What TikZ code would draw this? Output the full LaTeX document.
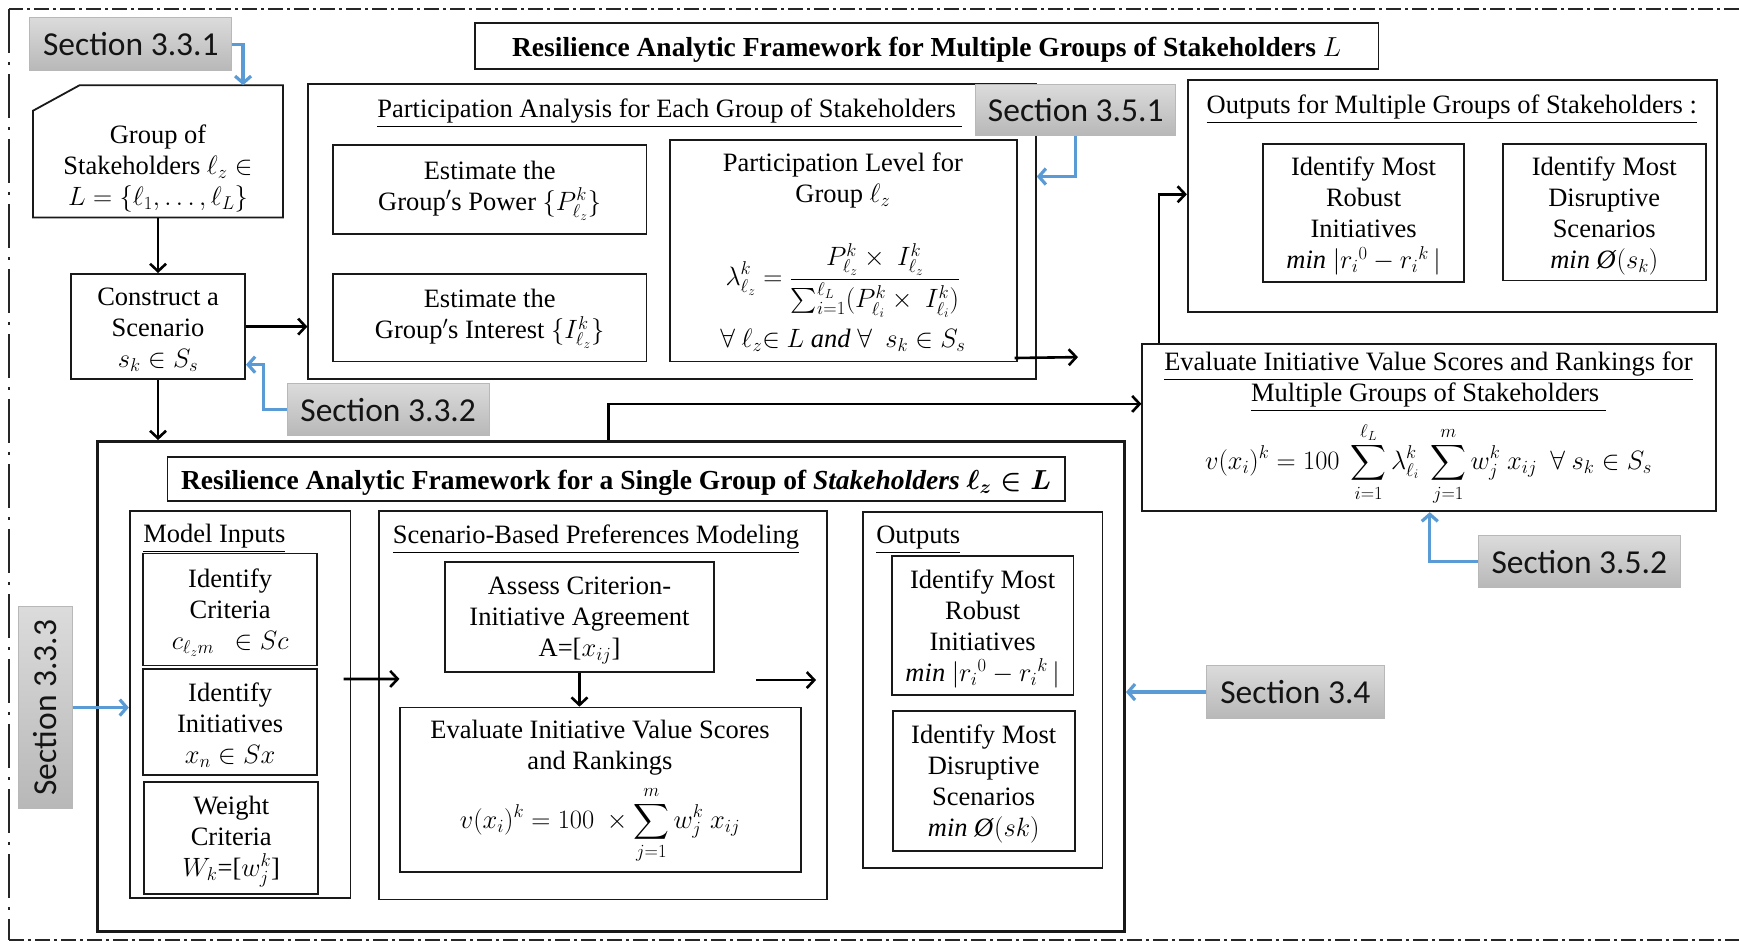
\RequirePackage{fix-cm}
\documentclass[tikz,border=0pt]{standalone}
\usepackage{amsmath}
\usepackage{fontspec}
\setmainfont{Liberation Serif}
\newfontfamily\secfont{Carlito}
\usetikzlibrary{arrows.meta,calc,fit}
\definecolor{refblue}{HTML}{5B9BD5}
\newcommand\serifsz{\fontsize{26.5}{31}\selectfont}
\newcommand\headsz{\fontsize{27.5}{31}\selectfont}
\newcommand\secsz{\secfont\fontsize{33.5}{40}\selectfont}
\begin{document}
\begin{tikzpicture}[x=1.109pt,y=-1.109pt,
  box/.style={draw=black!90, line width=1.8pt, inner sep=0pt},
  boxline/.style={draw=black!90, line width=1.8pt},
  txt/.style={inner sep=0pt, align=center, font=\serifsz},
  boxtxt/.style={txt, yshift=-3.5pt},
  secbox/.style={draw=black!28, line width=1pt, top color=black!14, bottom color=black!28,
    font=\secsz, text=black!92, inner sep=0pt},
  flow/.style={draw=black, line width=2.6pt, -{Straight Barb[length=7.5pt,width=16pt]}},
  ref/.style={draw=refblue, line width=3.2pt, -{Straight Barb[length=7pt,width=16pt]}},
  framedash/.style={line width=2pt, draw=black!85, dash pattern=on 15pt off 4pt on 3pt off 4pt},
  framedashv/.style={line width=2pt, draw=black!85, dash pattern=on 44pt off 9pt on 3pt off 9pt}]
\useasboundingbox (0,0) rectangle (1568,850);

% outer dash-dot frame
\draw[framedash] (1568,8) -- (8,8);
\draw[framedashv] (8,8) -- (8,848);
\draw[framedash] (8,848) -- (1568,848);

% main title
\node[box, fit={(428,21) (1243,62)}] (maintitle) {};
\node[boxtxt, font=\headsz] (maintitletxt) at (maintitle.center)
  {\textbf{Resilience Analytic Framework for Multiple Groups of Stakeholders} $L$};

% stakeholder group (snipped corner)
\node[inner sep=0pt, fit={(30,77) (255,196)}] (stake) {};
\draw[boxline] ($(stake.north west)+(0,23)$) -- ($(stake.north west)+(42,0)$)
  -- (stake.north east) -- (stake.south east) -- (stake.south west) -- cycle;
\node[txt] (staketxt) at (142.5,152) {Group of\\Stakeholders $\ell_z\in$\\$L=\{\ell_1,\ldots,\ell_L\}$};

\node[box, fit={(64,247) (221,342)}] (cons) {};
\node[boxtxt] (constxt) at (cons.center) {Construct a\\Scenario\\$s_k\in S_s$};

% participation analysis
\node[box, fit={(278,76) (934,342)}] (part) {};
\node[txt, anchor=base] (parttitle) at (604,106)
  {\underline{Participation Analysis for Each Group of Stakeholders\ }};
\node[box, fit={(300,131) (583,211)}] (power) {};
\node[boxtxt] (powertxt) at ($(power.center)+(0,-2)$) {Estimate the\\Group$'$s Power $\{P^k_{\ell_z}\}$};
\node[box, fit={(300,247) (583,326)}] (interest) {};
\node[boxtxt] (interesttxt) at ($(interest.center)+(0,-2)$) {Estimate the\\Group$'$s Interest $\{I^k_{\ell_z}\}$};
\node[box, fit={(604,126) (917,326)}] (plevel) {};
\node[txt] (pleveltxt) at (760,163) {Participation Level for\\Group $\ell_z$};
\node[txt] (plevelfrm) at (760,253)
  {$\displaystyle \lambda^k_{\ell_z}=\frac{P^k_{\ell_z}\times\ I^k_{\ell_z}}{\sum_{i=1}^{\ell_L}(P^k_{\ell_i}\times\ I^k_{\ell_i})}$};
\node[txt] (plevelall) at (760,307) {$\forall\ \ell_z{\in}\ L$ \textit{and} $\forall\ \ s_k\in S_s$};

% outputs for multiple groups
\node[box, fit={(1071,72) (1548,281)}] (outm) {};
\node[txt, anchor=base] (outmtitle) at (1309,102) {\underline{Outputs for Multiple Groups of Stakeholders :}};
\node[box, fit={(1139,130) (1320,254)}] (robm) {};
\node[boxtxt] (robmtxt) at (robm.center)
  {Identify Most\\Robust\\Initiatives\\\textit{min} $|r_i{}^0-r_i{}^k\,|$};
\node[box, fit={(1355,130) (1538,253)}] (disrm) {};
\node[boxtxt] (disrmtxt) at (disrm.center)
  {Identify Most\\Disruptive\\Scenarios\\\textit{min Ø}$(s_k)$};

% evaluation for multiple groups
\node[box, fit={(1030,310) (1547,461)}] (evalm) {};
\node[txt] (evalmtitle) at (1288,344)
  {\underline{Evaluate Initiative Value Scores and Rankings for}\\\underline{Multiple Groups of Stakeholders\ }};
\node[txt] (evalmfrm) at (1288,418)
  {$\displaystyle v(x_i)^k=100\ \sum_{i=1}^{\ell_L}\lambda^k_{\ell_i}\ \sum_{j=1}^{m}w^k_j\ x_{ij}\ \ \forall\ s_k\in S_s$};

% single group framework
\node[box, line width=2.7pt, fit={(88,398) (1014,840)}] (single) {};
\node[box, fit={(151,412) (960,452)}] (singletitle) {};
\node[boxtxt, font=\headsz] (singletitletxt) at (singletitle.center)
  {\textbf{Resilience Analytic Framework for a Single Group of \textit{Stakeholders}} $\boldsymbol{\ell_z\in L}$};

\node[box, fit={(117,461) (316,810)}] (inputs) {};
\node[txt, anchor=base west] (inputstitle) at (129,489) {\underline{Model Inputs}};
\node[box, fit={(129,499) (286,600)}] (crit) {};
\node[boxtxt] (crittxt) at (crit.center) {Identify\\Criteria\\$c_{\ell_z m}\ \ \in Sc$};
\node[box, fit={(129,603) (286,699)}] (init) {};
\node[boxtxt] (inittxt) at (init.center) {Identify\\Initiatives\\$x_n\in Sx$};
\node[box, fit={(130,705) (287,806)}] (weight) {};
\node[boxtxt] (weighttxt) at (weight.center) {Weight\\Criteria\\$W_k$=[$w^k_j$]};

\node[box, fit={(342,461) (746,811)}] (scen) {};
\node[txt, anchor=base west] (scentitle) at (354,490) {\underline{Scenario-Based Preferences Modeling}};
\node[box, fit={(401,507) (644,606)}] (assess) {};
\node[boxtxt] (assesstxt) at (assess.center) {Assess Criterion-\\Initiative Agreement\\A=[$x_{ij}$]};
\node[box, fit={(361,638) (722,786)}] (evals) {};
\node[txt] (evalstitle) at (541,674) {Evaluate Initiative Value Scores\\and Rankings};
\node[txt] (evalsfrm) at (541,744) {$\displaystyle v(x_i)^k=100\ \times\sum_{j=1}^{m}w^k_j\ x_{ij}$};

\node[box, fit={(778,462) (994,783)}] (outs) {};
\node[txt, anchor=base west] (outstitle) at (790,490) {\underline{Outputs}};
\node[box, fit={(804,501) (968,627)}] (robs) {};
\node[boxtxt] (robstxt) at (robs.center)
  {Identify Most\\Robust\\Initiatives\\\textit{min} $|r_i{}^0-r_i{}^k\,|$};
\node[box, fit={(805,641) (969,767)}] (disrs) {};
\node[boxtxt] (disrstxt) at (disrs.center)
  {Identify Most\\Disruptive\\Scenarios\\\textit{min Ø}$(sk)$};

% section references
\node[secbox, minimum width=201.8pt, minimum height=53.2pt] (s331) at (118,40) {Section 3.3.1};
\node[secbox, minimum width=199.6pt, minimum height=51pt] (s351) at (970,99) {Section 3.5.1};
\node[secbox, minimum width=201.8pt, minimum height=52pt] (s332) at (350,369.5) {Section 3.3.2};
\node[secbox, minimum width=201.8pt, minimum height=52pt] (s352) at (1424,506.5) {Section 3.5.2};
\node[secbox, minimum width=177.4pt, minimum height=53.2pt] (s34) at (1168,624) {Section 3.4};
\node[secbox, rotate=90, minimum width=201.8pt, minimum height=53.2pt] (s333) at (41,638) {Section 3.3.3};

% process connectors
\draw[flow] (stake.south) -- (cons.north);
\draw[flow] (cons.east) -- (part.west |- cons.east);
\draw[flow] (cons.south) -- (single.north -| cons.south);
\draw[flow] ($(single.north west)+(462,0)$) |- ($(evalm.north west)+(0,55)$);
\draw[flow] ($(evalm.north west)+(16,0)$) |- ($(outm.north west)+(0,104)$);
\coordinate (plout) at (972,322);
\draw[flow] ($(plevel.south east)+(-3,-4)$) -- (plout);
\draw[flow] ($(inputs.north east)+(-7,152)$) -- ($(scen.north west)+(19,152)$);
\draw[flow] (assess.south) -- (evals.north -| assess.south);
\coordinate (scenout) at ($(scen.north east)+(-11,153)$);
\draw[flow] ($(scen.north east)+(-65,153)$) -- (scenout);

% section reference arrows
\draw[ref] (s331.east) -| ($(stake.north east)+(-36,0)$);
\draw[ref] (s332.west) -- ++(-21,0) |- ($(cons.south east)+(0,-14)$);
\draw[ref] (s351.south) |- ($(part.north east)+(0,84)$);
\draw[ref] (s352.west) -| ($(evalm.south west)+(260,0)$);
\draw[ref] (s34.west) -- (single.east |- s34.west);
\draw[ref] (s333.south) -- (inputs.west |- s333.south);
\end{tikzpicture}
\end{document}
